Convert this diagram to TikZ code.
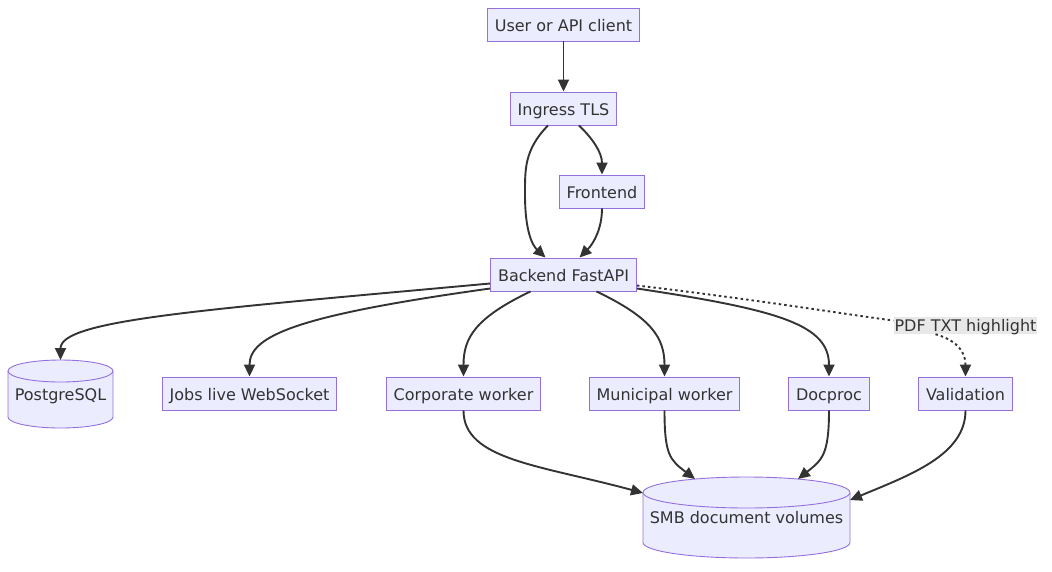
\documentclass[tikz,border=0pt]{standalone}
\usepackage{fontspec}
\setmainfont{DejaVu Sans}
\usetikzlibrary{arrows.meta,calc}
\definecolor{nodefill}{HTML}{ECECFF}
\definecolor{nodeline}{HTML}{9370DB}
\definecolor{ink}{HTML}{333333}
\definecolor{lblbg}{HTML}{E8E8E8}
\tikzset{
  box/.style={draw=nodeline, fill=nodefill, line width=0.9pt, text=ink, font=\fontsize{16}{19}\selectfont, minimum height=33pt, inner xsep=7.5pt, inner ysep=0pt, text height=14pt, text depth=1pt},
  cylbody/.style={draw=nodeline, fill=nodefill, line width=0.9pt},
  cyltext/.style={text=ink, font=\fontsize{16}{19}\selectfont, inner sep=0pt, text height=14pt, text depth=1pt},
  conn/.style={draw=ink, line width=1.9pt, -{Triangle[length=12pt,width=11pt]}},
  dotconn/.style={draw=ink, line width=1.9pt, dash pattern=on 2.5pt off 3pt},
  lbl/.style={fill=lblbg, text=ink, font=\fontsize{16}{19}\selectfont, inner xsep=1pt, inner ysep=1pt, minimum height=17pt, text height=13pt, text depth=2pt}
}
\begin{document}
\begin{tikzpicture}[x=1pt,y=-1pt]
\useasboundingbox (0,0) rectangle (1052,571);
% nodes
\node[box] (user) at (563.5,24.5) {User or API client};
\node[box] (ingress) at (563.5,108.5) {Ingress TLS};
\node[box] (front) at (602,191.5) {Frontend};
\node[box] (back) at (563.5,274.5) {Backend FastAPI};
\node[box] (jobs) at (249.5,393.5) {Jobs live WebSocket};
\node[box] (corp) at (463.5,393.5) {Corporate worker};
\node[box] (muni) at (664.5,393.5) {Municipal worker};
\node[box] (doc) at (829,393.5) {Docproc};
\node[box] (val) at (965.5,393.5) {Validation};
% PostgreSQL cylinder
\path[cylbody] (8,371) -- (8,417) arc[start angle=180,end angle=0,x radius=52.5,y radius=11] -- (113,371) arc[start angle=0,end angle=-180,x radius=52.5,y radius=11] -- cycle;
\draw[cylbody,fill=none] (8,371) arc[start angle=180,end angle=0,x radius=52.5,y radius=11];
\node[cyltext] (pg) at (60.5,394) {PostgreSQL};
\coordinate (pgtop) at (60.5,360);
% SMB cylinder
\path[cylbody] (643,492.5) -- (643,542.5) arc[start angle=180,end angle=0,x radius=103.5,y radius=15.5] -- (850,492.5) arc[start angle=0,end angle=-180,x radius=103.5,y radius=15.5] -- cycle;
\draw[cylbody,fill=none] (643,492.5) arc[start angle=180,end angle=0,x radius=103.5,y radius=15.5];
\node[cyltext] (smb) at (746.5,517) {SMB document volumes};
\coordinate (smbA) at (643,493);
\coordinate (smbB) at (695,479);
\coordinate (smbC) at (798,479);
\coordinate (smbD) at (850,500);
% label
\node[lbl] (hl) at (965.5,325.5) {PDF TXT highlight};
% edges
\draw[conn] (user.south) -- (ingress.north);
\draw[conn] ($(ingress.south)+(-15.5,0)$) .. controls (524,150) and (525,170) .. (525,195) .. controls (525,230) and (532,245) .. ($(back.north)+(-18,0)$);
\draw[conn] ($(ingress.south)+(15.5,0)$) .. controls (592,138) and (602,152) .. (front.north);
\draw[conn] (front.south) .. controls (602,228) and (594,243) .. ($(back.north)+(16,0)$);
\draw[conn] ($(back.west)+(0,9)$) .. controls (200,310) and (60.5,320) .. (pgtop);
\draw[conn] ($(back.west)+(0,14)$) .. controls (300,315) and (249.5,335) .. (jobs.north);
\draw[conn] ($(back.south)+(-33,0)$) .. controls (475,318) and (463.5,338) .. (corp.north);
\draw[conn] ($(back.south)+(33,0)$) .. controls (652,318) and (664.5,338) .. (muni.north);
\draw[conn] ($(back.east)+(0,14)$) .. controls (780,310) and (829,325) .. (doc.north);
\draw[dotconn] ($(back.east)+(0,11)$) .. controls (760,300) and (850,315) .. ($(hl.west)+(0,-5)$);
\draw[dotconn,-{Triangle[length=12pt,width=11pt]}] ($(hl.south)+(-30,0)$) .. controls (955,340) and (965.5,350) .. (val.north);
\draw[conn] (corp.south) .. controls (463.5,460) and (540,465) .. (smbA);
\draw[conn] (muni.south) .. controls (664.5,455) and (670,460) .. (smbB);
\draw[conn] (doc.south) .. controls (829,455) and (822,460) .. (smbC);
\draw[conn] (val.south) .. controls (965.5,455) and (910,475) .. (smbD);
\end{tikzpicture}
\end{document}
